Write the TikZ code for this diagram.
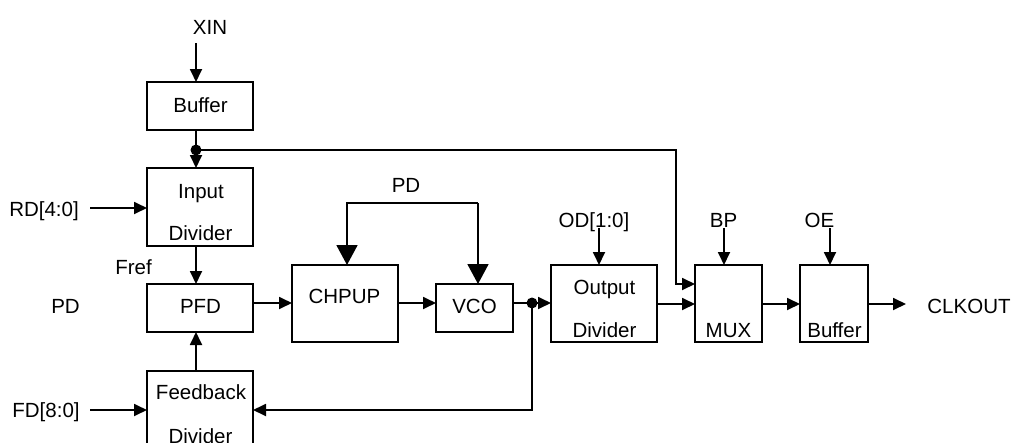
\documentclass[tikz,border=0pt]{standalone}
\usepackage{fontspec}
\setmainfont{Liberation Sans}
\usetikzlibrary{arrows.meta}
\begin{document}
\begin{tikzpicture}[x=1pt,y=-1pt,line width=1.8pt,
  blk/.style={draw,inner sep=0pt,outer sep=0pt},
  txt/.style={anchor=base,inner sep=0pt,font=\fontsize{20.5}{24}\selectfont},
  arr/.style={-{Triangle[length=13pt,width=12pt]}},
  bigarr/.style={-{Triangle[length=20pt,width=21pt]}},
  dotc/.style={circle,fill,inner sep=0pt,minimum size=11pt}]
\clip (0,0) rectangle (1015,442);
% boxes
\node[blk,minimum width=106pt,minimum height=48pt] (buf1) at (200,106) {};
\node[blk,minimum width=106pt,minimum height=78pt] (indiv) at (200,207) {};
\node[blk,minimum width=106pt,minimum height=48pt] (pfd) at (200,308) {};
\node[blk,minimum width=106pt,minimum height=90pt] (fbdiv) at (200,416) {};
\node[blk,minimum width=106pt,minimum height=77pt] (chp) at (345,303.5) {};
\node[blk,minimum width=77pt,minimum height=48pt] (vco) at (474.5,308) {};
\node[blk,minimum width=106pt,minimum height=77pt] (odiv) at (604,303.5) {};
\node[blk,minimum width=67pt,minimum height=77pt] (mux) at (728.5,303.5) {};
\node[blk,minimum width=68pt,minimum height=77pt] (buf2) at (834,303.5) {};
% texts
\node[txt] (tXIN) at (210,34) {XIN};
\node[txt] (tBuf1) at (200.5,112) {Buffer};
\node[txt] (tIn) at (201,198) {Input};
\node[txt] (tInD) at (200.5,240) {Divider};
\node[txt] (tRD) at (44,216) {RD[4:0]};
\node[txt] (tFref) at (133.5,274) {Fref};
\node[txt] (tPDl) at (65.5,313) {PD};
\node[txt] (tPFD) at (200.5,313) {PFD};
\node[txt] (tFb) at (201,399) {Feedback};
\node[txt] (tFbD) at (200.5,443) {Divider};
\node[txt] (tFD) at (46,417) {FD[8:0]};
\node[txt] (tCHP) at (344.5,303) {CHPUP};
\node[txt] (tVCO) at (474.5,313) {VCO};
\node[txt] (tPDt) at (406,192) {PD};
\node[txt] (tOD) at (594,227) {OD[1:0]};
\node[txt] (tOut) at (604.5,294) {Output};
\node[txt] (tOutD) at (604.5,337) {Divider};
\node[txt] (tBP) at (723.5,227) {BP};
\node[txt] (tMUX) at (728.5,337) {MUX};
\node[txt] (tOE) at (819.5,227) {OE};
\node[txt] (tBuf2) at (834.5,337) {Buffer};
\node[txt] (tCLK) at (969,313) {CLKOUT};
% helper coordinates
\coordinate (colA) at (196,0);
\coordinate (xinS) at (196,43);
\coordinate (rdS) at (90,208);
\coordinate (fdS) at (90,410);
\coordinate (pdL) at (347,203);
\coordinate (pdR) at (478,203);
\coordinate (odS) at (599,228);
\coordinate (bpS) at (724,228);
\coordinate (oeS) at (830,228);
\coordinate (clkE) at (906,304);
\coordinate (turn1) at (676,150);
\coordinate (turnFB) at (532,410);
\node[dotc] (d1) at (196,150) {};
\node[dotc] (d2) at (532,303) {};
% connectors
\draw[arr] (xinS) -- (colA |- buf1.north);
\draw (colA |- buf1.south) -- (d1.center);
\draw[arr] (d1.center) -- (colA |- indiv.north);
\draw[arr] (d1.center) -- (turn1) -- (turn1 |- 0,284) -- (mux.west |- 0,284);
\draw[arr] (rdS) -- (indiv.west |- rdS);
\draw[arr] (colA |- indiv.south) -- (colA |- pfd.north);
\draw[arr] (colA |- fbdiv.north) -- (colA |- pfd.south);
\draw[arr] (fdS) -- (fbdiv.west |- fdS);
\draw[arr] (pfd.east |- 0,303) -- (chp.west |- 0,303);
\draw[arr] (chp.east |- 0,303) -- (vco.west |- 0,303);
\draw (vco.east |- d2) -- (d2.center);
\draw[arr] (d2.center) -- (odiv.west |- d2);
\draw[arr] (d2.center) -- (turnFB) -- (fbdiv.east |- turnFB);
\draw[bigarr] (pdR) -- (pdL) -- (pdL |- chp.north);
\draw[bigarr] (pdR) -- (pdR |- vco.north);
\draw[arr] (odS) -- (odS |- odiv.north);
\draw[arr] (odiv.east |- 0,304) -- (mux.west |- 0,304);
\draw[arr] (bpS) -- (bpS |- mux.north);
\draw[arr] (mux.east |- 0,304) -- (buf2.west |- 0,304);
\draw[arr] (oeS) -- (oeS |- buf2.north);
\draw[arr] (buf2.east |- clkE) -- (clkE);
\end{tikzpicture}
\end{document}
